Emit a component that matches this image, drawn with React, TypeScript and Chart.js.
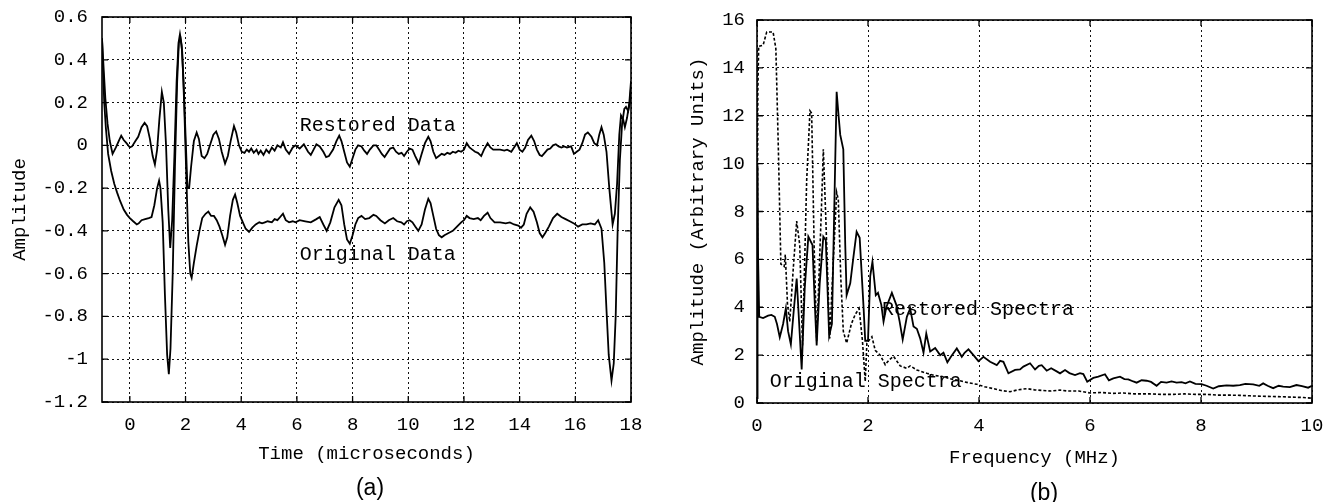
import React, { useEffect, useRef } from "react";
import { Chart, registerables } from "chart.js";

Chart.register(...registerables);

const MONO = '"Liberation Mono", "Courier New", monospace';
const SANS = '"Liberation Sans", Arial, sans-serif';

// ---------- Panel (a): time domain ----------
const TIME_TICKS = [0, 2, 4, 6, 8, 10, 12, 14, 16, 18];
const AMP_TICKS = [-1.2, -1, -0.8, -0.6, -0.4, -0.2, 0, 0.2, 0.4, 0.6];

const RESTORED_DATA: [number, number][] = [
  [-1.0, 0.5], [-0.95, 0.38], [-0.88, 0.22], [-0.8, 0.1], [-0.72, 0.02], [-0.62, -0.04],
  [-0.5, -0.01], [-0.4, 0.02], [-0.31, 0.045], [-0.22, 0.025], [-0.12, 0.01], [0.0, -0.01],
  [0.08, -0.005], [0.2, 0.02], [0.3, 0.04], [0.42, 0.085], [0.53, 0.105], [0.62, 0.09],
  [0.72, 0.03], [0.82, -0.05], [0.9, -0.09], [0.98, -0.02], [1.06, 0.12], [1.15, 0.25],
  [1.22, 0.2], [1.3, 0.0], [1.38, -0.3], [1.45, -0.48], [1.52, -0.35], [1.6, -0.05],
  [1.68, 0.3], [1.75, 0.48], [1.8, 0.52], [1.86, 0.47], [1.93, 0.3], [2.0, 0.05],
  [2.07, -0.2], [2.13, -0.2], [2.2, -0.1], [2.3, 0.02], [2.4, 0.06], [2.48, 0.03],
  [2.58, -0.05], [2.68, -0.06], [2.78, -0.04], [2.9, 0.01], [3.0, 0.05], [3.1, 0.065],
  [3.2, 0.03], [3.3, -0.03], [3.42, -0.085], [3.52, -0.05], [3.62, 0.02], [3.74, 0.09],
  [3.82, 0.06], [3.92, 0.0], [4.02, -0.03], [4.12, -0.035], [4.2, -0.02], [4.28, -0.03],
  [4.36, -0.015], [4.45, -0.035], [4.55, -0.02], [4.62, -0.04], [4.7, -0.025], [4.8, -0.045],
  [4.9, -0.02], [5.0, -0.035], [5.1, -0.01], [5.2, -0.025], [5.3, 0.0], [5.42, -0.01],
  [5.5, 0.015], [5.6, -0.02], [5.72, -0.04], [5.85, -0.01], [5.95, 0.0], [6.1, -0.015],
  [6.25, 0.005], [6.4, -0.03], [6.5, -0.045], [6.6, -0.02], [6.7, 0.005], [6.82, -0.005],
  [6.95, -0.03], [7.05, -0.055], [7.15, -0.05], [7.3, -0.02], [7.42, 0.02], [7.52, 0.045],
  [7.6, 0.02], [7.7, -0.03], [7.8, -0.08], [7.9, -0.1], [8.0, -0.06], [8.1, -0.02],
  [8.2, 0.0], [8.32, -0.005], [8.42, -0.025], [8.52, -0.04], [8.62, -0.02], [8.75, 0.0],
  [8.85, 0.0], [8.95, -0.02], [9.05, -0.04], [9.15, -0.055], [9.25, -0.035], [9.35, -0.015],
  [9.46, -0.01], [9.56, -0.03], [9.66, -0.04], [9.76, -0.035], [9.85, -0.05], [9.95, -0.03],
  [10.05, -0.015], [10.15, -0.02], [10.25, -0.05], [10.38, -0.085], [10.48, -0.04], [10.6, 0.01],
  [10.72, 0.04], [10.8, 0.02], [10.9, -0.03], [11.0, -0.06], [11.1, -0.05], [11.2, -0.04],
  [11.3, -0.045], [11.4, -0.035], [11.5, -0.04], [11.6, -0.03], [11.7, -0.035], [11.8, -0.025],
  [11.9, -0.03], [12.0, -0.02], [12.1, 0.01], [12.2, -0.01], [12.3, -0.02], [12.4, -0.03],
  [12.5, -0.035], [12.62, -0.05], [12.72, -0.02], [12.85, 0.01], [12.95, -0.01], [13.05, -0.02],
  [13.15, -0.02], [13.3, -0.02], [13.45, -0.025], [13.55, -0.02], [13.7, -0.03], [13.8, -0.01],
  [13.9, 0.01], [14.0, -0.02], [14.1, -0.03], [14.2, -0.01], [14.3, 0.025], [14.42, 0.045],
  [14.52, 0.02], [14.62, -0.02], [14.72, -0.045], [14.8, -0.05], [14.9, -0.035], [15.0, -0.02],
  [15.1, -0.015], [15.2, 0.0], [15.3, 0.005], [15.4, -0.005], [15.5, -0.01], [15.6, -0.005],
  [15.7, -0.01], [15.85, -0.005], [15.95, -0.04], [16.05, -0.03], [16.15, -0.02], [16.25, 0.01],
  [16.35, 0.05], [16.45, 0.06], [16.58, 0.04], [16.68, 0.01], [16.78, 0.0], [16.86, 0.05],
  [16.94, 0.085], [17.02, 0.05], [17.12, -0.03], [17.22, -0.2], [17.34, -0.37], [17.42, -0.32],
  [17.5, -0.18], [17.58, 0.05], [17.64, 0.14], [17.72, 0.12], [17.78, 0.085], [17.86, 0.13],
  [17.94, 0.2], [18.0, 0.3],
];

const ORIGINAL_DATA: [number, number][] = [
  [-1.0, 0.5], [-0.96, 0.35], [-0.92, 0.2], [-0.86, 0.08], [-0.78, -0.04], [-0.67, -0.12],
  [-0.56, -0.18], [-0.46, -0.22], [-0.35, -0.26], [-0.22, -0.3], [-0.1, -0.325], [0.0, -0.34],
  [0.12, -0.355], [0.25, -0.37], [0.32, -0.365], [0.42, -0.35], [0.55, -0.345], [0.68, -0.34],
  [0.78, -0.335], [0.88, -0.28], [0.98, -0.2], [1.05, -0.165], [1.1, -0.2], [1.18, -0.36],
  [1.26, -0.7], [1.34, -0.98], [1.4, -1.07], [1.46, -0.95], [1.54, -0.6], [1.62, -0.1],
  [1.7, 0.3], [1.76, 0.48], [1.82, 0.5], [1.88, 0.44], [1.95, 0.2], [2.03, -0.15],
  [2.1, -0.45], [2.17, -0.6], [2.22, -0.62], [2.3, -0.55], [2.4, -0.47], [2.5, -0.4],
  [2.6, -0.34], [2.72, -0.32], [2.82, -0.31], [2.92, -0.33], [3.02, -0.33], [3.12, -0.35],
  [3.22, -0.38], [3.32, -0.42], [3.42, -0.465], [3.5, -0.43], [3.6, -0.33], [3.7, -0.255],
  [3.78, -0.23], [3.86, -0.27], [3.96, -0.33], [4.06, -0.36], [4.16, -0.39], [4.28, -0.405],
  [4.4, -0.385], [4.52, -0.37], [4.65, -0.36], [4.75, -0.365], [4.85, -0.36], [4.95, -0.355],
  [5.1, -0.36], [5.2, -0.345], [5.3, -0.35], [5.4, -0.335], [5.5, -0.32], [5.6, -0.35],
  [5.72, -0.36], [5.85, -0.355], [5.95, -0.36], [6.1, -0.35], [6.3, -0.355], [6.5, -0.36],
  [6.7, -0.345], [6.82, -0.335], [6.95, -0.37], [7.07, -0.4], [7.2, -0.36], [7.35, -0.29],
  [7.5, -0.255], [7.6, -0.28], [7.7, -0.37], [7.8, -0.44], [7.9, -0.46], [8.0, -0.42],
  [8.1, -0.37], [8.2, -0.34], [8.32, -0.33], [8.45, -0.345], [8.6, -0.34], [8.75, -0.325],
  [8.85, -0.33], [9.0, -0.35], [9.16, -0.365], [9.3, -0.35], [9.46, -0.34], [9.6, -0.355],
  [9.75, -0.36], [9.85, -0.37], [9.95, -0.355], [10.05, -0.35], [10.15, -0.36], [10.25, -0.38],
  [10.36, -0.4], [10.48, -0.37], [10.6, -0.3], [10.72, -0.25], [10.8, -0.27], [10.9, -0.33],
  [11.0, -0.39], [11.1, -0.42], [11.2, -0.43], [11.3, -0.42], [11.45, -0.41], [11.6, -0.4],
  [11.75, -0.38], [11.9, -0.36], [12.0, -0.35], [12.1, -0.33], [12.2, -0.34], [12.35, -0.345],
  [12.5, -0.34], [12.6, -0.35], [12.72, -0.33], [12.85, -0.315], [12.95, -0.34], [13.1, -0.36],
  [13.3, -0.36], [13.5, -0.365], [13.65, -0.36], [13.8, -0.37], [13.95, -0.375], [14.05, -0.385],
  [14.15, -0.37], [14.25, -0.32], [14.38, -0.29], [14.5, -0.31], [14.62, -0.36], [14.72, -0.41],
  [14.82, -0.43], [14.92, -0.41], [15.05, -0.38], [15.2, -0.34], [15.35, -0.32], [15.5, -0.335],
  [15.65, -0.345], [15.8, -0.355], [15.95, -0.365], [16.1, -0.38], [16.25, -0.37], [16.4, -0.37],
  [16.55, -0.365], [16.7, -0.37], [16.82, -0.35], [16.94, -0.39], [17.04, -0.55], [17.12, -0.77],
  [17.2, -0.98], [17.3, -1.1], [17.38, -1.02], [17.45, -0.8], [17.52, -0.4], [17.6, -0.07],
  [17.68, 0.1], [17.76, 0.17], [17.82, 0.18], [17.9, 0.16], [17.96, 0.2], [18.0, 0.27],
];

// ---------- Panel (b): frequency domain ----------
const FREQ_TICKS = [0, 2, 4, 6, 8, 10];
const SPEC_TICKS = [0, 2, 4, 6, 8, 10, 12, 14, 16];

const RESTORED_SPECTRA: [number, number][] = [
  [0.0, 0.2], [0.01, 9.9], [0.02, 6.0], [0.04, 3.6], [0.11, 3.55], [0.2, 3.65], [0.26, 3.68],
  [0.32, 3.6], [0.36, 3.3], [0.41, 2.75], [0.47, 3.3], [0.52, 3.95], [0.56, 3.0], [0.61, 2.45],
  [0.66, 3.8], [0.715, 5.2], [0.76, 3.3], [0.805, 1.4], [0.86, 4.8], [0.925, 6.95], [1.0, 6.6],
  [1.04, 4.2], [1.075, 2.4], [1.13, 5.0], [1.195, 6.95], [1.24, 6.8], [1.3, 2.8], [1.35, 3.3],
  [1.4, 9.0], [1.435, 13.0], [1.47, 12.0], [1.5, 11.2], [1.555, 10.6], [1.59, 6.6], [1.615, 4.5],
  [1.68, 5.0], [1.735, 6.05], [1.795, 7.15], [1.85, 6.9], [1.92, 4.0], [1.95, 2.6], [2.0, 2.6],
  [2.04, 5.3], [2.08, 5.9], [2.14, 4.5], [2.18, 4.6], [2.24, 4.1], [2.28, 3.4], [2.33, 4.0],
  [2.43, 4.6], [2.51, 4.1], [2.57, 3.4], [2.625, 2.65], [2.7, 3.6], [2.76, 3.95], [2.82, 3.2],
  [2.88, 3.1], [2.94, 2.7], [3.0, 2.1], [3.05, 2.9], [3.12, 2.15], [3.21, 2.3], [3.3, 2.0],
  [3.36, 2.1], [3.43, 1.7], [3.5, 1.95], [3.6, 2.28], [3.69, 1.93], [3.74, 2.1], [3.81, 2.24],
  [3.9, 2.0], [3.99, 1.75], [4.08, 1.93], [4.2, 1.72], [4.32, 1.58], [4.38, 1.76], [4.44, 1.72],
  [4.53, 1.24], [4.65, 1.38], [4.74, 1.4], [4.8, 1.52], [4.92, 1.66], [5.01, 1.4], [5.08, 1.55],
  [5.13, 1.58], [5.22, 1.35], [5.3, 1.45], [5.4, 1.32], [5.46, 1.24], [5.55, 1.38], [5.63, 1.25],
  [5.73, 1.17], [5.82, 1.25], [5.88, 1.21], [5.95, 0.89], [6.06, 1.05], [6.15, 1.1], [6.27, 1.2],
  [6.34, 0.95], [6.42, 1.03], [6.54, 1.1], [6.62, 1.0], [6.69, 0.99], [6.78, 0.9], [6.84, 0.85],
  [6.93, 0.95], [7.02, 0.93], [7.1, 0.88], [7.2, 0.72], [7.28, 0.88], [7.38, 0.85], [7.47, 0.9],
  [7.56, 0.85], [7.65, 0.87], [7.72, 0.82], [7.8, 0.9], [7.9, 0.8], [8.01, 0.79], [8.1, 0.72],
  [8.22, 0.6], [8.32, 0.7], [8.46, 0.74], [8.58, 0.72], [8.7, 0.75], [8.8, 0.8], [8.94, 0.78],
  [9.05, 0.72], [9.12, 0.82], [9.2, 0.72], [9.3, 0.62], [9.4, 0.72], [9.48, 0.68], [9.6, 0.66],
  [9.72, 0.75], [9.82, 0.7], [9.93, 0.64], [10.0, 0.72],
];

const ORIGINAL_SPECTRA: [number, number][] = [
  [0.0, 0.3], [0.015, 13.0], [0.03, 14.9], [0.11, 14.95], [0.175, 15.5], [0.29, 15.5],
  [0.34, 14.8], [0.385, 10.6], [0.43, 5.8], [0.49, 5.7], [0.51, 6.2], [0.55, 4.1], [0.59, 3.4],
  [0.65, 5.5], [0.715, 7.6], [0.77, 6.6], [0.82, 2.4], [0.86, 6.0], [0.895, 9.3], [0.955, 12.2],
  [0.985, 12.1], [1.03, 6.5], [1.075, 2.6], [1.12, 5.5], [1.165, 8.4], [1.195, 10.6], [1.24, 7.7],
  [1.31, 2.7], [1.37, 5.7], [1.435, 8.8], [1.465, 8.5], [1.51, 5.2], [1.555, 3.0], [1.615, 2.5],
  [1.7, 3.3], [1.77, 3.7], [1.84, 3.95], [1.9, 2.6], [1.95, 0.9], [1.98, 2.5], [2.07, 2.77],
  [2.13, 2.2], [2.22, 2.0], [2.31, 1.6], [2.38, 1.8], [2.46, 1.95], [2.58, 1.55], [2.7, 1.45],
  [2.76, 1.55], [2.88, 1.38], [3.06, 1.24], [3.2, 1.15], [3.36, 1.1], [3.5, 1.0], [3.66, 0.93],
  [3.8, 0.85], [3.96, 0.78], [4.1, 0.68], [4.26, 0.6], [4.4, 0.52], [4.56, 0.47], [4.7, 0.55],
  [4.86, 0.6], [5.0, 0.55], [5.16, 0.52], [5.3, 0.5], [5.46, 0.54], [5.6, 0.5], [5.8, 0.5],
  [6.0, 0.42], [6.2, 0.44], [6.4, 0.4], [6.6, 0.42], [6.8, 0.38], [7.08, 0.38], [7.3, 0.36],
  [7.5, 0.36], [7.7, 0.38], [7.9, 0.36], [8.1, 0.36], [8.3, 0.33], [8.5, 0.33], [8.7, 0.32],
  [8.88, 0.3], [9.1, 0.28], [9.3, 0.27], [9.48, 0.26], [9.7, 0.24], [9.85, 0.23], [10.0, 0.2],
];

type Note = { text: string; x: number; y: number };
const NOTES_A: Note[] = [
  { text: "Restored Data", x: 6.1, y: 0.09 },
  { text: "Original Data", x: 6.1, y: -0.51 },
];
const NOTES_B: Note[] = [
  { text: "Restored Spectra", x: 2.25, y: 3.9 },
  { text: "Original Spectra", x: 0.23, y: 0.88 },
];

const toPts = (arr: [number, number][]) => arr.map(([x, y]) => ({ x, y }));

function framePlugin(notes: Note[]) {
  return {
    id: "frameNotes",
    afterDatasetsDraw(chart: any) {
      const { ctx, chartArea } = chart;
      const { left, top, right, bottom } = chartArea;
      const xs = chart.scales.x;
      const ys = chart.scales.y;
      ctx.save();
      ctx.strokeStyle = "#000";
      ctx.lineWidth = 1.6;
      ctx.strokeRect(left, top, right - left, bottom - top);
      ctx.lineWidth = 1.3;
      ctx.beginPath();
      const tl = 6;
      xs.ticks.forEach((t: any) => {
        const p = xs.getPixelForValue(t.value);
        ctx.moveTo(p, bottom);
        ctx.lineTo(p, bottom - tl);
        ctx.moveTo(p, top);
        ctx.lineTo(p, top + tl);
      });
      ys.ticks.forEach((t: any) => {
        const p = ys.getPixelForValue(t.value);
        ctx.moveTo(left, p);
        ctx.lineTo(left + tl, p);
        ctx.moveTo(right, p);
        ctx.lineTo(right - tl, p);
      });
      ctx.stroke();
      ctx.fillStyle = "#000";
      ctx.font = `20px ${MONO}`;
      ctx.textAlign = "left";
      ctx.textBaseline = "middle";
      notes.forEach((n) => {
        ctx.fillText(n.text, xs.getPixelForValue(n.x), ys.getPixelForValue(n.y));
      });
      ctx.restore();
    },
  };
}

type PanelSpec = {
  datasets: any[];
  xMin: number; xMax: number; yMin: number; yMax: number;
  xTicks: number[]; yTicks: number[];
  xTitle: string; yTitle: string;
  yAxisWidth: number; xAxisHeight: number;
  yTickPad: number; yTitlePad: number;
  padding: { left: number; top: number; right: number; bottom: number };
  notes: Note[];
};

function makeConfig(s: PanelSpec): any {
  const tickFont = { family: MONO, size: 19 };
  return {
    type: "line",
    data: { datasets: s.datasets },
    plugins: [framePlugin(s.notes)],
    options: {
      responsive: false,
      animation: false,
      events: [],
      layout: { padding: s.padding },
      plugins: { legend: { display: false }, tooltip: { enabled: false } },
      elements: { point: { radius: 0 }, line: { tension: 0 } },
      scales: {
        x: {
          type: "linear",
          min: s.xMin,
          max: s.xMax,
          afterBuildTicks: (sc: any) => { sc.ticks = s.xTicks.map((v) => ({ value: v })); },
          afterFit: (sc: any) => { sc.height = s.xAxisHeight; sc.paddingLeft = 0; sc.paddingRight = 0; },
          ticks: { font: tickFont, color: "#000", padding: 12, maxRotation: 0, autoSkip: false, callback: (v: number) => String(v) },
          grid: { color: "#111", lineWidth: 1, drawTicks: false },
          border: { display: false, dash: [2, 3] },
          title: { display: true, text: s.xTitle, font: { family: MONO, size: 19 }, color: "#000", padding: { top: 0, bottom: 0 } },
        },
        y: {
          type: "linear",
          min: s.yMin,
          max: s.yMax,
          afterBuildTicks: (sc: any) => { sc.ticks = s.yTicks.map((v) => ({ value: v })); },
          afterFit: (sc: any) => { sc.width = s.yAxisWidth; sc.paddingTop = 0; sc.paddingBottom = 0; },
          ticks: { font: tickFont, color: "#000", padding: s.yTickPad, autoSkip: false, callback: (v: number) => String(v) },
          grid: { color: "#111", lineWidth: 1, drawTicks: false },
          border: { display: false, dash: [2, 3] },
          title: { display: true, text: s.yTitle, font: { family: MONO, size: 19 }, color: "#000", padding: { top: s.yTitlePad, bottom: 0 } },
        },
      },
    },
  };
}

export default function App() {
  const leftRef = useRef<HTMLCanvasElement>(null);
  const rightRef = useRef<HTMLCanvasElement>(null);

  useEffect(() => {
    const solid = { borderColor: "#000", borderWidth: 1.8, pointRadius: 0, fill: false };
    const a = new Chart(
      leftRef.current as HTMLCanvasElement,
      makeConfig({
        datasets: [
          { ...solid, label: "Restored Data", data: toPts(RESTORED_DATA) },
          { ...solid, label: "Original Data", data: toPts(ORIGINAL_DATA) },
        ],
        xMin: -1, xMax: 18, yMin: -1.2, yMax: 0.6,
        xTicks: TIME_TICKS, yTicks: AMP_TICKS,
        xTitle: "Time (microseconds)", yTitle: "Amplitude",
        yAxisWidth: 102, xAxisHeight: 63,
        yTickPad: 14, yTitlePad: 9,
        padding: { left: 0, top: 17, right: 14, bottom: 37 },
        notes: NOTES_A,
      })
    );
    const b = new Chart(
      rightRef.current as HTMLCanvasElement,
      makeConfig({
        datasets: [
          { ...solid, label: "Restored Spectra", data: toPts(RESTORED_SPECTRA) },
          { ...solid, borderWidth: 1.6, borderDash: [3, 2], label: "Original Spectra", data: toPts(ORIGINAL_SPECTRA) },
        ],
        xMin: 0, xMax: 10, yMin: 0, yMax: 16,
        xTicks: FREQ_TICKS, yTicks: SPEC_TICKS,
        xTitle: "Frequency (MHz)", yTitle: "Amplitude (Arbitrary Units)",
        yAxisWidth: 112, xAxisHeight: 66,
        yTickPad: 12, yTitlePad: 42,
        padding: { left: 0, top: 20, right: 11, bottom: 33 },
        notes: NOTES_B,
      })
    );
    return () => {
      a.destroy();
      b.destroy();
    };
  }, []);

  return (
    <div style={{ position: "fixed", left: 0, top: 0, width: 1323, height: 502, background: "#fff", overflow: "hidden" }}>
      <canvas ref={leftRef} width={645} height={502} style={{ position: "absolute", left: 0, top: 0, width: 645, height: 502 }} />
      <canvas ref={rightRef} width={678} height={502} style={{ position: "absolute", left: 645, top: 0, width: 678, height: 502 }} />
      <div style={{ position: "absolute", left: 370, top: 487, transform: "translate(-50%, -50%)", font: `23px ${SANS}`, color: "#000", lineHeight: 1 }}>(a)</div>
      <div style={{ position: "absolute", left: 1044, top: 492, transform: "translate(-50%, -50%)", font: `23px ${SANS}`, color: "#000", lineHeight: 1 }}>(b)</div>
    </div>
  );
}
